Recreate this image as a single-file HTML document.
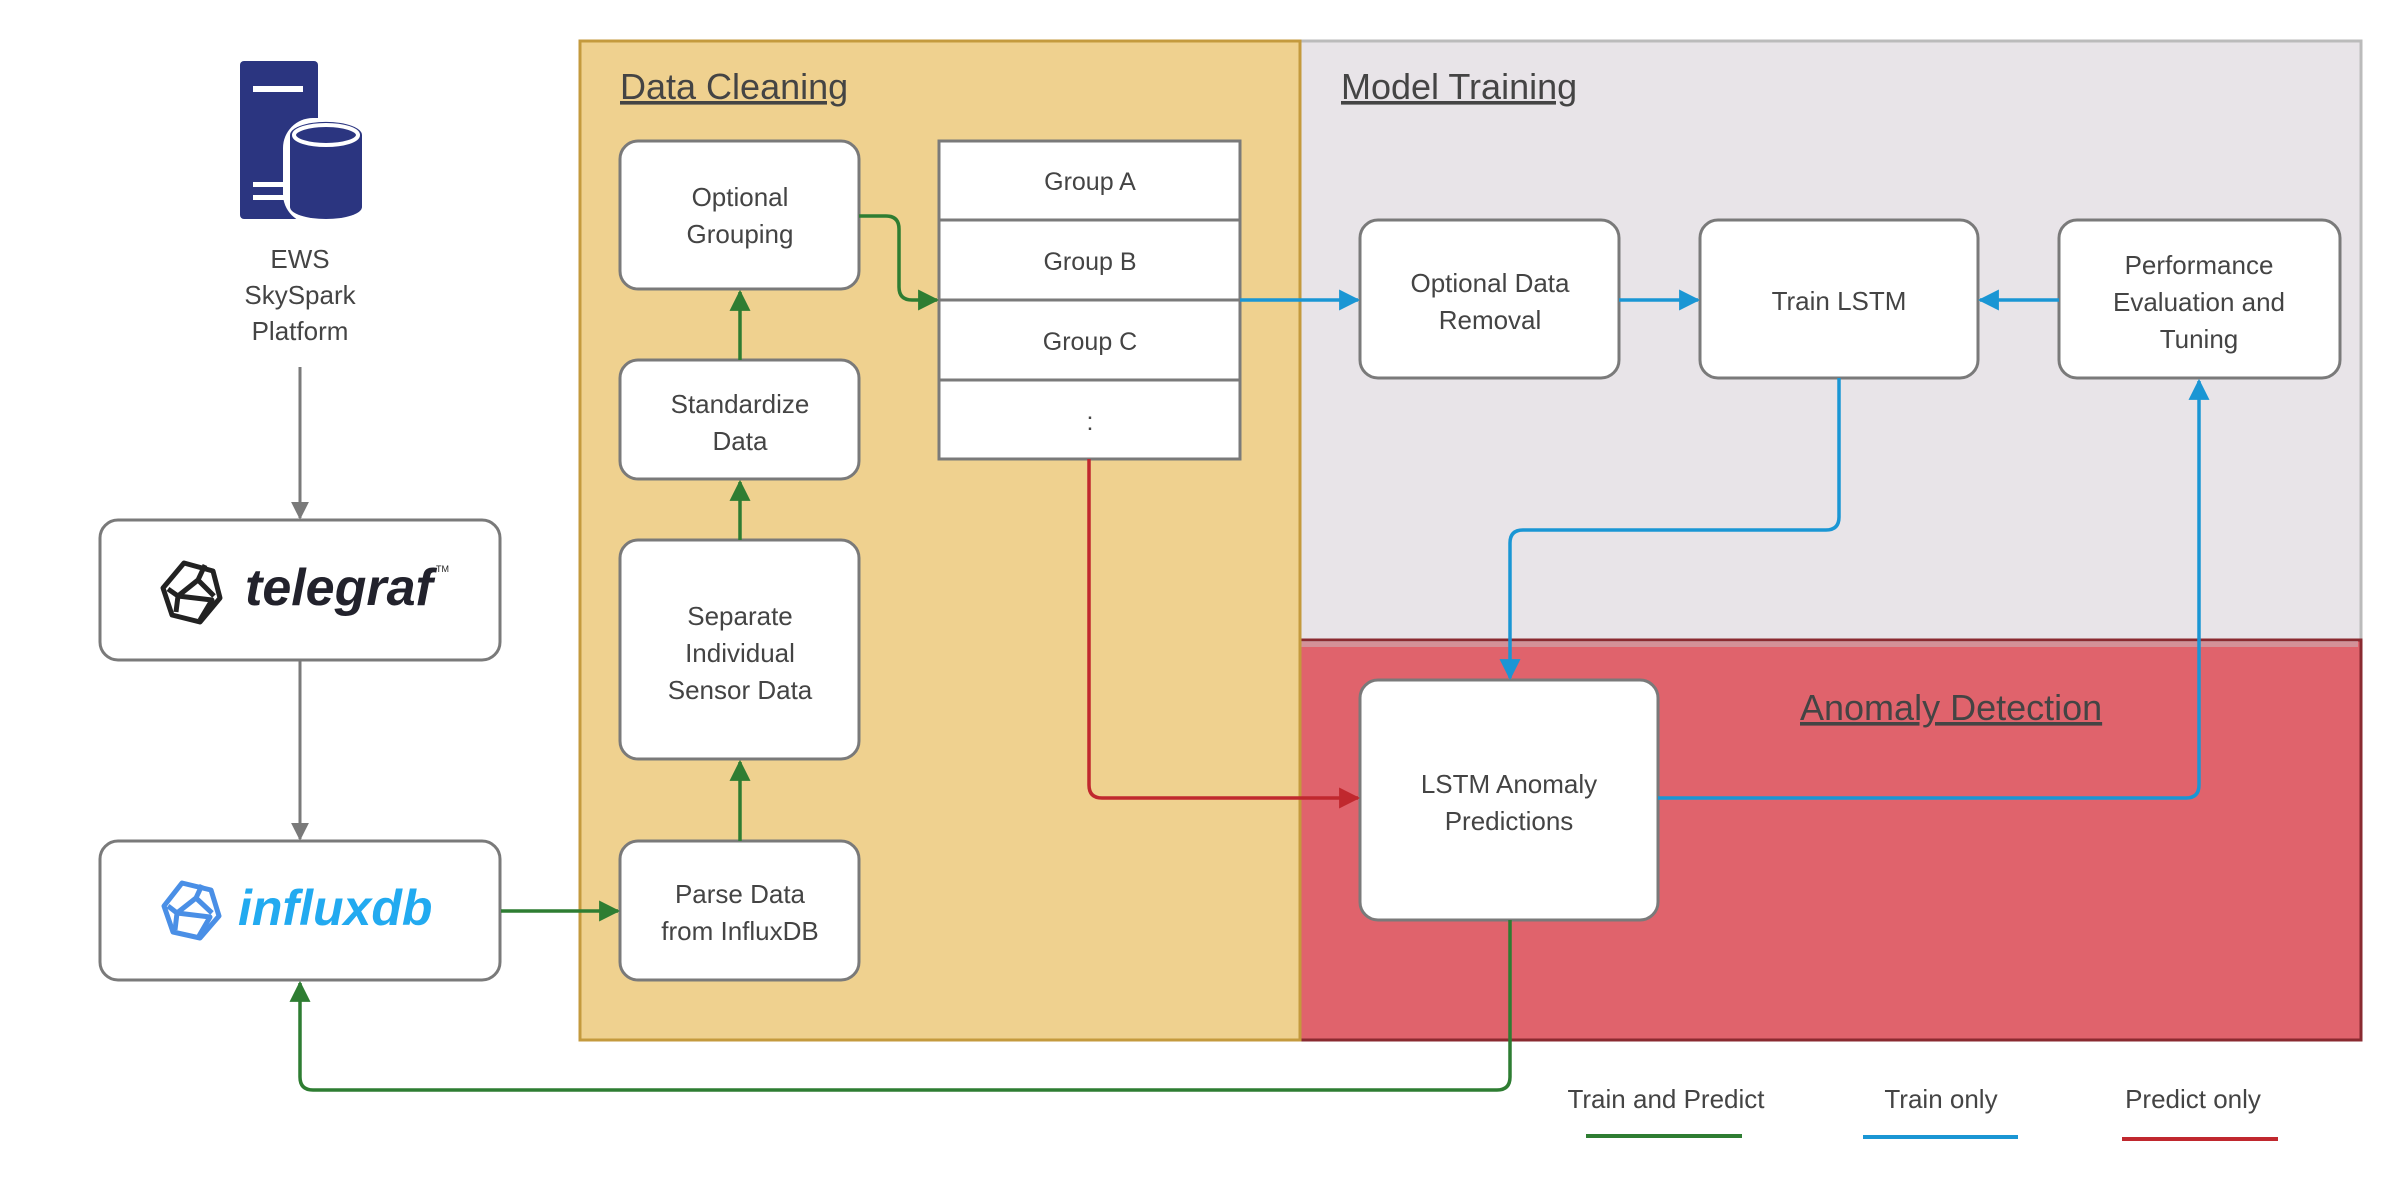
<!DOCTYPE html>
<html><head><meta charset="utf-8"><style>
html,body{margin:0;padding:0;background:#fff;}
svg{display:block;}
text{font-family:"Liberation Sans","DejaVu Sans",sans-serif;fill:#444;}
</style></head><body>
<svg width="2401" height="1180" viewBox="0 0 2401 1180" xmlns="http://www.w3.org/2000/svg">
<defs>
<marker id="ag" viewBox="0 0 10 10" refX="9" refY="5" markerWidth="6" markerHeight="6" orient="auto"><path d="M0,0L10,5L0,10z" fill="#2e7d32"/></marker>
<marker id="ab" viewBox="0 0 10 10" refX="9" refY="5" markerWidth="6" markerHeight="6" orient="auto"><path d="M0,0L10,5L0,10z" fill="#1a96d4"/></marker>
<marker id="ar" viewBox="0 0 10 10" refX="9" refY="5" markerWidth="6" markerHeight="6" orient="auto"><path d="M0,0L10,5L0,10z" fill="#c0282e"/></marker>
<marker id="ay" viewBox="0 0 10 10" refX="9" refY="5" markerWidth="6" markerHeight="6" orient="auto"><path d="M0,0L10,5L0,10z" fill="#7a7a7a"/></marker>
</defs>
<rect x="580" y="41" width="720" height="999" fill="#efd18f" stroke="#c49a3d" stroke-width="3"/>
<rect x="1300" y="41" width="1061" height="599" fill="#e8e4e8" stroke="#bbb" stroke-width="3"/>
<rect x="1300" y="640" width="1061" height="400" fill="#e0636c" stroke="#8a2a30" stroke-width="3"/>
<rect x="1300" y="641" width="1058" height="6" fill="#c8c0c4" opacity="0.5"/>
<rect x="580" y="41" width="720" height="999" fill="none" stroke="#c49a3d" stroke-width="3"/>
<text x="620" y="99" font-size="36" text-decoration="underline">Data Cleaning</text>
<text x="1341" y="99" font-size="36" text-decoration="underline">Model Training</text>
<text x="1800" y="720" font-size="36" text-decoration="underline">Anomaly Detection</text>

<rect x="240" y="61" width="78" height="158" rx="4" fill="#2b3580"/>
<rect x="253" y="86" width="50" height="6" fill="#fff"/>
<rect x="253" y="182" width="40" height="5" fill="#fff"/>
<rect x="253" y="195" width="40" height="5" fill="#fff"/>
<rect x="283" y="118" width="82" height="106" rx="30" fill="#fff"/>
<path d="M290,135 a33,12 0 0 1 72,0 v72 a36,12 0 0 1 -72,0z" fill="#2b3580"/>
<ellipse cx="326" cy="135" rx="32" ry="10" fill="#2b3580" stroke="#fff" stroke-width="4"/>
<text x="300" y="268" font-size="26" text-anchor="middle" fill="#555">EWS</text>
<text x="300" y="304" font-size="26" text-anchor="middle" fill="#555">SkySpark</text>
<text x="300" y="340" font-size="26" text-anchor="middle" fill="#555">Platform</text>

<line x1="300" y1="367" x2="300" y2="518" stroke="#7a7a7a" stroke-width="3" marker-end="url(#ay)"/>
<line x1="300" y1="660" x2="300" y2="839" stroke="#7a7a7a" stroke-width="3" marker-end="url(#ay)"/>

<rect x="100" y="520" width="400" height="140" rx="18" fill="#fff" stroke="#7a7a7a" stroke-width="3"/>
<g fill="none" stroke="#222" stroke-width="5" stroke-linejoin="round">
<path d="M184,563 L213,571 L220,598 L200,622 L172,615 L163,588 Z"/>
<path d="M168,589 L178,596 L198,580 L205,565 M198,580 L214,596 M178,596 L176,612 M178,596 L212,600 L200,620"/>
</g>
<text x="245" y="605" font-size="52" font-weight="bold" font-style="italic" style="fill:#22222c">telegraf</text>
<text x="436" y="572" font-size="9" style="fill:#222">TM</text>

<rect x="100" y="841" width="400" height="139" rx="18" fill="#fff" stroke="#7a7a7a" stroke-width="3"/>
<g fill="none" stroke="#4a8fe6" stroke-width="5" stroke-linejoin="round">
<path d="M182,883 L211,890 L219,916 L200,938 L173,932 L164,906 Z"/>
<path d="M168,906 L177,913 L196,898 L202,885 M196,898 L212,913 M177,913 L175,930 M177,913 L210,917 L199,936"/>
</g>
<text x="238" y="925" font-size="50" font-weight="bold" font-style="italic" style="fill:#22aaf0">influxdb</text>

<g fill="#fff" stroke="#7a7a7a" stroke-width="3">
<rect x="620" y="141" width="239" height="148" rx="18"/>
<rect x="620" y="360" width="239" height="119" rx="18"/>
<rect x="620" y="540" width="239" height="219" rx="18"/>
<rect x="620" y="841" width="239" height="139" rx="18"/>
<rect x="939" y="141" width="301" height="318"/>
<line x1="939" y1="220" x2="1240" y2="220"/>
<line x1="939" y1="300" x2="1240" y2="300"/>
<line x1="939" y1="380" x2="1240" y2="380"/>
<rect x="1360" y="220" width="259" height="158" rx="18"/>
<rect x="1700" y="220" width="278" height="158" rx="18"/>
<rect x="2059" y="220" width="281" height="158" rx="18"/>
<rect x="1360" y="680" width="298" height="240" rx="18"/>
</g>
<g font-size="26" text-anchor="middle">
<text x="740" y="206">Optional</text><text x="740" y="243">Grouping</text>
<text x="740" y="413">Standardize</text><text x="740" y="450">Data</text>
<text x="740" y="625">Separate</text><text x="740" y="662">Individual</text><text x="740" y="699">Sensor Data</text>
<text x="740" y="903">Parse Data</text><text x="740" y="940">from InfluxDB</text>
<text x="1090" y="190" font-size="25">Group A</text>
<text x="1090" y="270" font-size="25">Group B</text>
<text x="1090" y="350" font-size="25">Group C</text>
<text x="1090" y="430" font-size="25">:</text>
<text x="1490" y="292">Optional Data</text><text x="1490" y="329">Removal</text>
<text x="1839" y="310">Train LSTM</text>
<text x="2199" y="274">Performance</text><text x="2199" y="311">Evaluation and</text><text x="2199" y="348">Tuning</text>
<text x="1509" y="793">LSTM Anomaly</text><text x="1509" y="830">Predictions</text>
</g>

<g fill="none" stroke="#2e7d32" stroke-width="3.5">
<line x1="501" y1="911" x2="618" y2="911" marker-end="url(#ag)"/>
<line x1="740" y1="841" x2="740" y2="762" marker-end="url(#ag)"/>
<line x1="740" y1="540" x2="740" y2="482" marker-end="url(#ag)"/>
<line x1="740" y1="360" x2="740" y2="292" marker-end="url(#ag)"/>
<path d="M859,216 H886 Q899,216 899,229 V287 Q899,300 912,300 H937" marker-end="url(#ag)"/>
<path d="M1510,920 V1077 Q1510,1090 1497,1090 H313 Q300,1090 300,1077 V983" marker-end="url(#ag)"/>
</g>
<g fill="none" stroke="#1a96d4" stroke-width="3.5">
<line x1="1240" y1="300" x2="1358" y2="300" marker-end="url(#ab)"/>
<line x1="1619" y1="300" x2="1698" y2="300" marker-end="url(#ab)"/>
<line x1="2059" y1="300" x2="1980" y2="300" marker-end="url(#ab)"/>
<path d="M1839,378 V517 Q1839,530 1826,530 H1523 Q1510,530 1510,543 V678" marker-end="url(#ab)"/>
<path d="M1658,798 H2186 Q2199,798 2199,785 V381" marker-end="url(#ab)"/>
</g>
<path d="M1089,459 V785 Q1089,798 1102,798 H1358" fill="none" stroke="#c0282e" stroke-width="3.5" marker-end="url(#ar)"/>

<g font-size="26" text-anchor="middle">
<text x="1666" y="1108">Train and Predict</text>
<text x="1941" y="1108">Train only</text>
<text x="2193" y="1108">Predict only</text>
</g>
<line x1="1586" y1="1136" x2="1742" y2="1136" stroke="#2e7d32" stroke-width="4"/>
<line x1="1863" y1="1137" x2="2018" y2="1137" stroke="#1a96d4" stroke-width="4"/>
<line x1="2122" y1="1139" x2="2278" y2="1139" stroke="#c0282e" stroke-width="4"/>
</svg>
</body></html>
